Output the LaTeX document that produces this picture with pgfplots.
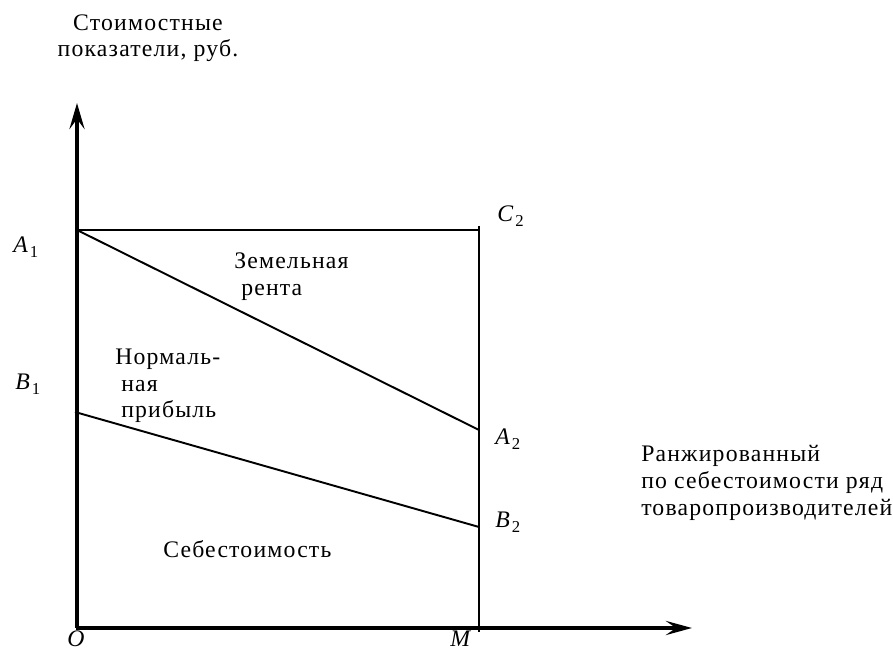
\documentclass[border=0pt]{standalone}
\usepackage{fontspec}
\setmainfont{Liberation Serif}[LetterSpace=5]
\usepackage{pgfplots}
\pgfplotsset{compat=1.18}
\usetikzlibrary{arrows.meta}

% italic letter with a small upright index
\newcommand{\lbl}[2]{\textit{#1}\kern0.5pt\raisebox{-0.45ex}{\fontsize{9.5}{10}\selectfont #2}}

\begin{document}
\fontsize{13.5}{16}\selectfont
\begin{tikzpicture}
  \begin{axis}[
      width=17.86cm, height=13.04cm, scale only axis,
      xmin=-77, xmax=816, ymin=-24, ymax=628,
      hide axis, clip=false,
      every node/.append style={inner sep=0pt},
    ]
    \coordinate (bl) at (rel axis cs:0,0);
    \coordinate (tr) at (rel axis cs:1,1);
    % axes
    \addplot[black, line width=2.3pt, -{Stealth[length=0.52cm, width=0.3cm, inset=0.2cm]}]
      coordinates {(0,0) (0,525)};
    \addplot[black, line width=2.3pt, -{Stealth[length=0.52cm, width=0.28cm, inset=0.2cm]}]
      coordinates {(-1,0) (615,0)};
    % rectangle top and right side
    \addplot[black, line width=1.1pt] coordinates {(0,398) (402,398)};
    \addplot[black, line width=1.1pt] coordinates {(402,402) (402,-4)};
    % A1 -> A2, B1 -> B2
    \addplot[black, line width=1.1pt] coordinates {(0,398) (402,198)};
    \addplot[black, line width=1.1pt] coordinates {(-2,216) (402,101)};

    % point labels
    \node[anchor=base west] at (-72,375) {\lbl{A}{1}};
    \node[anchor=base west] at (-70,238) {\lbl{B}{1}};
    \node[anchor=base west] at (412,406) {\lbl{C}{2}};
    \node[anchor=base west] at (410,183) {\lbl{A}{2}};
    \node[anchor=base west] at (410,100) {\lbl{B}{2}};
    \node[anchor=base west] at (-18,-19) {\textit{O}};
    \node[anchor=base west] at (365,-19) {\textit{M}};

    % axis titles
    \node[anchor=base] at (71,597) {Стоимостные};
    \node[anchor=base] at (71,571) {показатели, руб.};
    \node[anchor=base west] at (556,166) {Ранжированный};
    \node[anchor=base west] at (556,139) {по себестоимости ряд};
    \node[anchor=base west] at (556,112) {товаропроизводителей};

    % region names
    \node[anchor=base west] at (149,359) {Земельная};
    \node[anchor=base west] at (156,332) {рента};
    \node[anchor=base west] at (30,263) {Нормаль-};
    \node[anchor=base west] at (36,236) {ная};
    \node[anchor=base west] at (36,210) {прибыль};
    \node[anchor=base west] at (78,70) {Себестоимость};
  \end{axis}
  \pgfresetboundingbox
  \path (bl) rectangle (tr);
\end{tikzpicture}
\end{document}
